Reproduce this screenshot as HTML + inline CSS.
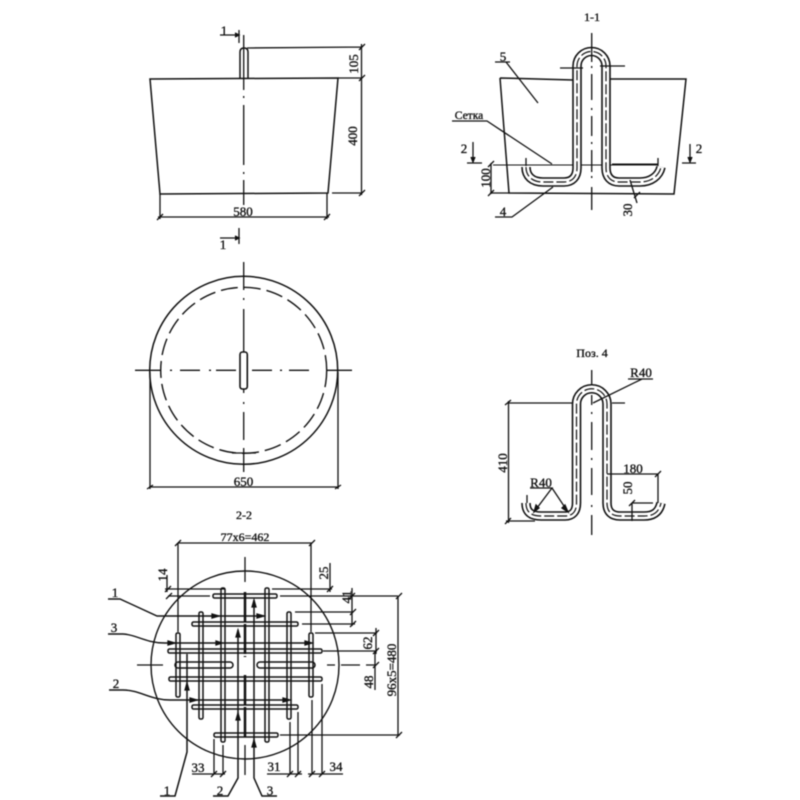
<!DOCTYPE html>
<html><head><meta charset="utf-8"><style>
html,body{margin:0;padding:0;background:#fff;width:800px;height:800px;overflow:hidden}
svg{display:block;filter:blur(0.4px)}
text{font-family:"Liberation Serif",serif;font-size:13px;fill:#111;text-anchor:middle;font-weight:normal;stroke:#111;stroke-width:0.35px}
</style></head><body>
<svg width="800" height="800" viewBox="0 0 800 800" xmlns="http://www.w3.org/2000/svg">
<rect width="800" height="800" fill="#fff"/>
<g fill="none" stroke="#111" stroke-width="1.3">

<!-- VIEW 1 -->
<path d="M150 79L338 78L328 193L160 194Z" stroke-width="1.5"/>
<path d="M240 79V52Q240 48 244 48Q248 48 248 52V79" stroke-width="1.5"/>
<path d="M243.700 35V90M243.700 96V98M243.700 105V165M243.700 172V174M243.700 180V205"/>
<path d="M247 48L362 47M338 78H362M332 193H362M361.500 44V195M160 194V219M327 193V219M158 217H329"/>
<path d="M359 50L365 44M359 81L365 75M359 196L365 190M157 220L163 214M324 220L330 214"/>
<path d="M220 35H238M239 30V43M220 238H238M239 228V244"/>
<path d="M235 33L239 35L235 37M235 236L239 238L235 240" fill="#111"/>

<!-- VIEW 2 circle -->
<circle cx="243.700" cy="370.300" r="94" stroke-width="1.500"/>
<circle cx="243.700" cy="370.300" r="83" stroke-dasharray="17 6" stroke-width="1.400"/>
<rect x="240" y="352" width="7.300" height="37" rx="2.500" stroke-width="1.600" fill="#fff"/>
<path d="M243.700 262V290M243.700 298V300M243.700 309V352M243.700 389V393M243.700 402V404M243.700 412V440M243.700 448V472"/>
<path d="M135 370.300H161M170 370.300H172M180 370.300H200M209 370.300H211M216 370.300H236M252 370.300H272M280 370.300H282M289 370.300H309M327 370.300H352"/>
<path d="M232 453H256M150 372V489M338 372V489M149 487H339M147 489L153 485M335 489L341 485"/>

<!-- VIEW 1-1 -->
<path d="M500 78L573 80M610 79L686 79L674 194L509 193L500 78" stroke-width="1.500"/>
<path d="M493 165H658" stroke-width="1"/>
<path d="M526 167C526 176 532 182 543 182H564C572 182 577 177 577 168V66A14.500 14.500 0 0 1 606 66V168C606 177 611 182 619 182H640C651 182 659 176 661 167" stroke-width="9.600" stroke="#111"/>
<path d="M526 167C526 176 532 182 543 182H564C572 182 577 177 577 168V66A14.500 14.500 0 0 1 606 66V168C606 177 611 182 619 182H640C651 182 659 176 661 167" stroke-width="6.400" stroke="#fff"/>
<path d="M526 167C526 176 532 182 543 182H564C572 182 577 177 577 168V66A14.500 14.500 0 0 1 606 66V168C606 177 611 182 619 182H640C651 182 659 176 661 167" stroke-width="1.200" stroke-dasharray="10 3"/>
<path d="M591.700 33V62M591.700 66V68M591.700 74V100M591.700 108V110M591.700 116V136M591.700 142V144M591.700 150V172M591.700 176V178M591.700 187V210"/>
<path d="M560 68H583M600 66H625"/>
<path d="M612 164.500H658" stroke-width="2"/>
<path d="M526 158V166M658 158V166"/>
<path d="M495 62H510M506 62L538 103M452 121H487L552 164M495 217H512L553 187"/>
<path d="M467 163H482M473 142V162M682 163H696M690 144V162M491 163V194M490 193H509M488 167L494 161M488 196L494 190M630 180L637 203M634 198L640 192"/>
<path d="M471 157L473 162L475 157M688 157L690 162L692 157" fill="#111"/>

<!-- POZ 4 -->
<path d="M526 503C526 512 531 516 541 516H565C572 516 576.500 512 576.500 503V404A15 15 0 0 1 607 404V503C607 512 612 516 620 516H644C654 516 659 512 661 503" stroke-width="9.600" stroke="#111"/>
<path d="M526 503C526 512 531 516 541 516H565C572 516 576.500 512 576.500 503V404A15 15 0 0 1 607 404V503C607 512 612 516 620 516H644C654 516 659 512 661 503" stroke-width="6.400" stroke="#fff"/>
<path d="M526 503C526 512 531 516 541 516H565C572 516 576.500 512 576.500 503V404A15 15 0 0 1 607 404V503C607 512 612 516 620 516H644C654 516 659 512 661 503" stroke-width="1.200" stroke-dasharray="10 3"/>
<path d="M591.700 370V384M591.700 395V405M591.700 412V414M591.700 422V450M591.700 458V460M591.700 468V495M591.700 505V507M591.700 515V535"/>
<path d="M507 403H572M612 403H625M508.500 401V523M506 521H535M505 405L511 400M505 524L511 518"/>
<path d="M628 379H653M642 379L593 403"/>
<path d="M530 488H552L534 512M552 488L568 512M527 495V503"/>
<path d="M607 474H658M658 474V503M655 477L661 471M632 503V521M632 503H653M629 506L635 500"/>
<path d="M534 512L536 505L539 508ZM568 512L562 508L565 505Z" fill="#111"/>

<!-- VIEW 2-2 -->
<circle cx="245" cy="665" r="94" stroke-width="1.400"/>
<g stroke-width="1.500" stroke="#111">
<rect x="213" y="594" width="64" height="4" rx="1.500"/>
<rect x="192" y="622" width="106" height="4" rx="1.500"/>
<rect x="168" y="649" width="154" height="4" rx="1.500"/>
<rect x="175" y="662" width="58" height="6" rx="3"/>
<rect x="257" y="662" width="58" height="6" rx="3"/>
<rect x="169" y="677" width="153" height="4" rx="1.500"/>
<rect x="192" y="705" width="106" height="4" rx="1.500"/>
<rect x="214" y="733" width="64" height="4" rx="1.500"/>
<rect x="176" y="633" width="4" height="64" rx="1.500"/>
<rect x="199" y="612" width="4" height="107" rx="1.500"/>
<rect x="221" y="588" width="4" height="154" rx="1.500"/>
<rect x="265" y="588" width="4" height="154" rx="1.500"/>
<rect x="287" y="612" width="4" height="107" rx="1.500"/>
<rect x="309" y="633" width="4" height="64" rx="1.500"/>
</g>
<path d="M245 557V582M245 745V775M137 665H163M327 665H335M341 665H360M366 665H375"/>
<path d="M245 592V657M245 675V738" stroke-width="2.500" stroke-dasharray="30 2"/>
<!-- section leaders -->
<path d="M108 599H120L157 616H264M108 634H123C135 634 145 643 165 643H310M109 690H123C140 690 150 700 170 700H288" stroke-width="1.400"/>
<path d="M187 654V752L175 796H160M238 630V778L228 796H213M254 600V778L262 796H277" stroke-width="1.500"/>
<path d="M212 614L219 616L212 618ZM257 614L264 616L257 618ZM168 641L175 643L168 645ZM216 641L222 643L216 645ZM305 641L312 643L305 645ZM190 698L197 700L190 702ZM283 698L290 700L283 702ZM185 690L187 683L189 690ZM236 637L238 630L240 637ZM252 607L254 600L256 607ZM236 720L238 713L240 720ZM252 747L254 740L256 747Z" fill="#111"/>
<!-- dimensions -->
<path d="M178 543H312M178 543V632M311 543V632M175 546L181 540M309 546L315 540"/>
<path d="M167 575V592M165 589H225M168 596H210M272 589H332M280 596H398M295 612H353M302 624H355M315 633H377M323 651H377M280 735H400M398 596V735"/>
<path d="M330 563V592M352 588V626M376 628V654M375 651V690"/>
<path d="M165 592L171 586M166 599L172 593M327 592L333 586M349 599L355 593M350 615L356 609M350 627L356 621M373 636L379 630M373 654L379 648M373 668L379 662M396 599L402 593M396 738L402 732"/>
<path d="M214 739V774M223 745V774M290 722V774M298 712V774M312 700V774M322 684V774"/>
<path d="M192 774H225M267 774H302M308 774H343"/>
<path d="M211 777L217 771M220 777L226 771M287 777L293 771M295 777L301 771M309 777L315 771M319 777L325 771"/>
</g>

<!-- LABELS -->
<text x="224" y="35">1</text>
<text x="223" y="249">1</text>
<text x="243" y="216">580</text>
<text transform="translate(358,64) rotate(-90)" x="0" y="0">105</text>
<text transform="translate(357,136) rotate(-90)" x="0" y="0">400</text>
<text x="243.500" y="486">650</text>
<text x="592" y="21" style="font-size:12px">1-1</text>
<text x="503" y="61">5</text>
<text x="469" y="119" style="font-size:11.500px">Сетка</text>
<text x="464" y="153">2</text>
<text x="699" y="153">2</text>
<text transform="translate(490,178) rotate(-90)" x="0" y="0">100</text>
<text x="503" y="216">4</text>
<text transform="translate(632,210) rotate(-90)" x="0" y="0">30</text>
<text x="592" y="357" style="font-size:12px">Поз. 4</text>
<text x="641" y="377">R40</text>
<text x="541" y="487">R40</text>
<text transform="translate(507,463) rotate(-90)" x="0" y="0">410</text>
<text x="633" y="473">180</text>
<text transform="translate(632,488) rotate(-90)" x="0" y="0">50</text>
<text x="244" y="519" style="font-size:12px">2-2</text>
<text x="245" y="541" style="font-size:12px">77x6=462</text>
<text transform="translate(167,575) rotate(-90)" x="0" y="0">14</text>
<text transform="translate(328,573) rotate(-90)" x="0" y="0">25</text>
<text transform="translate(351,597) rotate(-90)" x="0" y="0">41</text>
<text transform="translate(372,643) rotate(-90)" x="0" y="0">62</text>
<text transform="translate(373,682) rotate(-90)" x="0" y="0">48</text>
<text transform="translate(396,670) rotate(-90)" x="0" y="0">96x5=480</text>
<text x="115" y="597">1</text>
<text x="114" y="632">3</text>
<text x="116" y="688">2</text>
<text x="198" y="772">33</text>
<text x="274" y="771">31</text>
<text x="336" y="771">34</text>
<text x="167" y="795">1</text>
<text x="220" y="795">2</text>
<text x="270" y="795">3</text>
</svg>
</body></html>
